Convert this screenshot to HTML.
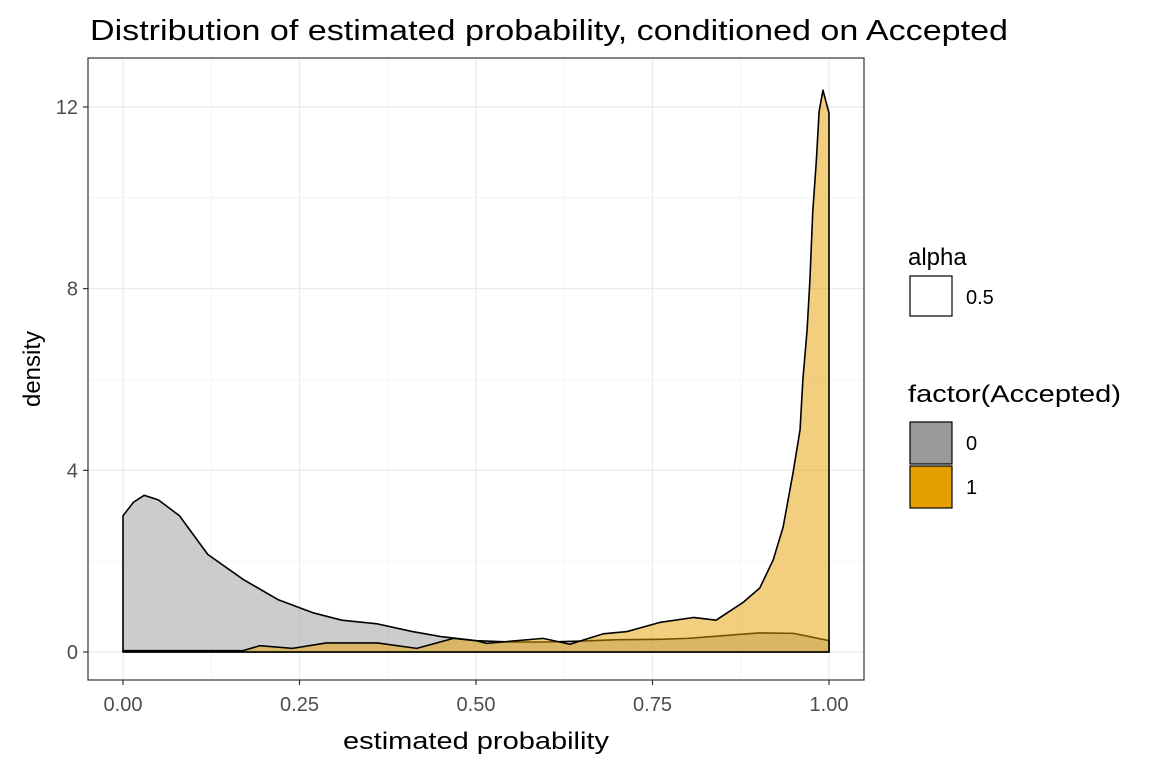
<!DOCTYPE html>
<html><head><meta charset="utf-8"><style>
body{margin:0;background:#fff;}
svg text{font-family:"Liberation Sans",Arial,sans-serif;}
</style></head><body>
<svg id="chart" width="1152" height="768">
<rect width="1152" height="768" fill="#fff"/>
<text x="90" y="40" font-size="29" textLength="918" lengthAdjust="spacingAndGlyphs" fill="#000">Distribution of estimated probability, conditioned on Accepted</text>
<g id="grid"></g>
<g id="marks"></g>
<rect x="88" y="58" width="776" height="622" fill="none" stroke="#333" stroke-width="1.2"/>
<g id="axes"></g>
<text x="476" y="749" font-size="24" textLength="266" lengthAdjust="spacingAndGlyphs" text-anchor="middle" fill="#000">estimated probability</text>
<text transform="translate(40,369) rotate(-90)" font-size="24" text-anchor="middle" fill="#000">density</text>
<g>
<text x="908" y="265" font-size="24">alpha</text>
<rect x="910" y="276" width="42" height="40" fill="#fff" stroke="#000" stroke-width="1.2"/>
<text x="966" y="304" font-size="20">0.5</text>
<text x="908" y="402" font-size="24" textLength="213" lengthAdjust="spacingAndGlyphs">factor(Accepted)</text>
<rect x="910" y="422" width="42" height="42" fill="#999" stroke="#000" stroke-width="1.2"/>
<text x="966" y="450" font-size="20">0</text>
<rect x="910" y="466" width="42" height="42" fill="#E69F00" stroke="#000" stroke-width="1.2"/>
<text x="966" y="494" font-size="20">1</text>
</g>
</svg>
<script>
const xTicks=[0,0.25,0.5,0.75,1];
const xTickLabels=["0.00","0.25","0.50","0.75","1.00"];
const yTicks=[0,4,8,12];
const yTickLabels=["0","4","8","12"];
const x0=[0,0.015,0.03,0.05,0.08,0.12,0.17,0.22,0.27,0.31,0.36,0.41,0.45,0.5,0.55,0.6,0.65,0.7,0.76,0.8,0.85,0.9,0.95,1];
const d0=[3.0,3.3,3.45,3.35,3.0,2.15,1.6,1.15,0.86,0.7,0.62,0.45,0.34,0.25,0.22,0.22,0.24,0.27,0.28,0.3,0.36,0.42,0.41,0.25];
const x1=[0,0.05,0.1,0.17,0.194,0.24,0.288,0.36,0.416,0.468,0.5,0.515,0.595,0.633,0.68,0.714,0.76,0.808,0.84,0.879,0.89,0.902,0.921,0.935,0.949,0.959,0.963,0.969,0.973,0.977,0.982,0.986,0.9915,0.996,1];
const d1=[0.03,0.03,0.03,0.03,0.14,0.08,0.2,0.2,0.08,0.3,0.25,0.19,0.3,0.17,0.4,0.45,0.65,0.76,0.7,1.1,1.25,1.41,2.03,2.75,3.94,4.89,6.0,7.1,8.2,9.7,10.8,11.9,12.37,12.1,11.87];
const X=v=>123+v*706, Y=v=>652-v*45.42;
const ns="http://www.w3.org/2000/svg";
const grid=document.getElementById('grid'),marks=document.getElementById('marks'),axes=document.getElementById('axes');
function mk(tag,attrs,parent){const e=document.createElementNS(ns,tag);for(const k in attrs)e.setAttribute(k,attrs[k]);parent.appendChild(e);return e;}
for(let i=0;i<xTicks.length;i++){
 let l=mk('line',{x1:X(xTicks[i]),x2:X(xTicks[i]),y1:58,y2:680,stroke:'#ebebeb','stroke-width':1.3},grid);
 
 
 if(i<xTicks.length-1){let m=mk('line',{x1:X((xTicks[i]+xTicks[i+1])/2),x2:X((xTicks[i]+xTicks[i+1])/2),y1:58,y2:680,stroke:'#f2f2f2','stroke-width':0.8},grid);
 
 }
 let t=mk('line',{x1:X(xTicks[i]),x2:X(xTicks[i]),y1:680,y2:685,stroke:'#333','stroke-width':1.2},axes);
 
 
 let tx=mk('text',{x:X(xTicks[i]),y:711,'font-size':20,'text-anchor':'middle',fill:'#4d4d4d'},axes);tx.textContent=xTickLabels[i];
 
 
}
for(let i=0;i<yTicks.length;i++){
 let l=mk('line',{x1:88,x2:864,y1:Y(yTicks[i]),y2:Y(yTicks[i]),stroke:'#ebebeb','stroke-width':1.3},grid);
 
 
 if(i<yTicks.length-1){let m=mk('line',{x1:88,x2:864,y1:Y((yTicks[i]+yTicks[i+1])/2),y2:Y((yTicks[i]+yTicks[i+1])/2),stroke:'#f2f2f2','stroke-width':0.8},grid);
 
 }
 let t=mk('line',{x1:83,x2:88,y1:Y(yTicks[i]),y2:Y(yTicks[i]),stroke:'#333','stroke-width':1.2},axes);
 
 
 let tx=mk('text',{x:78,y:Y(yTicks[i])+7,'font-size':20,'text-anchor':'end',fill:'#4d4d4d'},axes);tx.textContent=yTickLabels[i];
 
 
}
function area(xs,ds,fill,name){
 let d='M'+X(xs[0])+','+Y(0);
 for(let i=0;i<xs.length;i++)d+=' L'+X(xs[i])+','+Y(ds[i]);
 d+=' L'+X(xs[xs.length-1])+','+Y(0)+' Z';
 let p=mk('path',{d:d,fill:fill,'fill-opacity':0.5,stroke:'#000','stroke-width':1.6,'stroke-linejoin':'round'},marks);
 
 
}
area(x0,d0,'#999999','density-accepted-0');
area(x1,d1,'#E69F00','density-accepted-1');
</script>
</body></html>
